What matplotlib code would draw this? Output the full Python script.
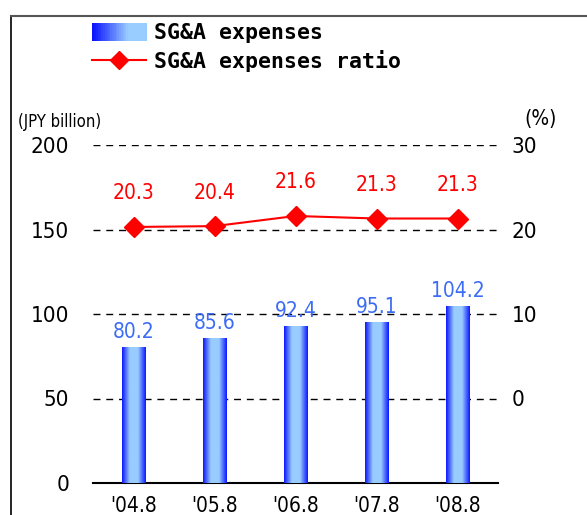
import numpy as np
import matplotlib
matplotlib.use('Agg')
import matplotlib.pyplot as plt
from matplotlib.patches import Rectangle
from matplotlib.lines import Line2D
from matplotlib.legend_handler import HandlerBase
from matplotlib.colors import LinearSegmentedColormap

plt.rcParams['font.family'] = ['DejaVu Sans']
plt.rcParams['font.stretch'] = 'condensed'

# datos
v_years = ["'04.8", "'05.8", "'06.8", "'07.8", "'08.8"]
v_expenses = [80.2, 85.6, 92.4, 95.1, 104.2]
v_ratio = [20.3, 20.4, 21.6, 21.3, 21.3]
v_left_ticks = [0, 50, 100, 150, 200]
v_right_ticks = [0, 10, 20, 30]

c_dark = '#0a14ff'
c_light = '#99ccff'
c_blue_txt = '#3b6cf5'
cmap = LinearSegmentedColormap.from_list('g', [c_dark, c_light, c_light, c_dark], N=256)
grad = np.linspace(0, 1, 256).reshape(1, -1)


class GradHandler(HandlerBase):
    # dibuja el parche de la leyenda como franjas de color
    def create_artists(self, legend, orig, xd, yd, width, height, fontsize, trans):
        arts = []
        n = 30
        for i in range(n):
            col = cmap(0.5 * i / (n - 1))
            r = Rectangle((xd + width * i / n, yd - 1), width / n + 0.3, height + 2,
                          facecolor=col, edgecolor='none', transform=trans)
            arts.append(r)
        return arts


fig = plt.figure(figsize=(5.87, 5.15), dpi=100)
ax = fig.add_axes([93 / 587, 32 / 515, 405 / 587, 338 / 515])
ax2 = ax.twinx()

x = np.arange(len(v_years))
bars = ax.bar(x, v_expenses, width=0.29, color='none', edgecolor='none', zorder=3)
for b in bars:
    im = ax.imshow(grad, cmap=cmap, aspect='auto', zorder=3,
                   extent=[b.get_x(), b.get_x() + b.get_width(), 0, b.get_height()])
for xi, v in zip(x, v_expenses):
    ax.annotate(f'{v:.1f}', (xi, v), xytext=(0, 4), textcoords='offset points',
                ha='center', va='bottom', color=c_blue_txt, fontsize=15)

ax.set_xlim(-0.5, 4.5)
ax.set_ylim(0, 200)
ax.set_yticks(v_left_ticks)
for y in v_left_ticks[1:]:
    ax.axhline(y, color='black', lw=1, ls=(0, (5, 4.2)), zorder=1)
ax.set_xticks(x)
ax.set_xticklabels(v_years, fontsize=15)
ax.tick_params(axis='both', length=0, labelsize=16, pad=9)
ax.tick_params(axis='x', labelsize=15)
ax.tick_params(axis='y', pad=17)
for s in ['top', 'left', 'right']:
    ax.spines[s].set_visible(False)
ax.spines['bottom'].set_linewidth(1.5)

ax2.plot(x, v_ratio, color='red', lw=1.5, marker='D', markersize=10, zorder=4)
for xi, v in zip(x, v_ratio):
    ax2.annotate(f'{v:.1f}', (xi, v), xytext=(0, 17), textcoords='offset points',
                 ha='center', va='bottom', color='red', fontsize=15)
ax2.set_ylim(-10, 30)
ax2.set_yticks(v_right_ticks)
ax2.tick_params(axis='y', length=0, labelsize=16, pad=10)
for s in ['top', 'left', 'right', 'bottom']:
    ax2.spines[s].set_visible(False)

fig.text(18 / 587, 1 - 122 / 515, '(JPY billion)', fontsize=12, va='center')
fig.text(541 / 587, 1 - 119 / 515, '(%)', fontsize=15, va='center', ha='center')

h_bar = Rectangle((0, 0), 1, 1)
h_line = Line2D([], [], color='red', lw=1.5, marker='D', markersize=9)
leg = fig.legend([h_bar, h_line], ['SG&A expenses', 'SG&A expenses ratio'],
                 handler_map={Rectangle: GradHandler()},
                 loc='upper left', bbox_to_anchor=(73 / 587, 1 - 4 / 515),
                 frameon=False, prop={'family': 'DejaVu Sans Mono', 'weight': 'bold', 'size': 15.5},
                 handlelength=2.5, handletextpad=0.35, labelspacing=0.3)

# marco exterior
fig.add_artist(Line2D([11 / 587, 11 / 587], [0, 1 - 16 / 515], color='black', lw=1.2,
                      transform=fig.transFigure))
fig.add_artist(Line2D([11 / 587, 1], [1 - 16 / 515, 1 - 16 / 515], color='#555555', lw=1.5,
                      transform=fig.transFigure))

fig.savefig('out.png', dpi=100)
